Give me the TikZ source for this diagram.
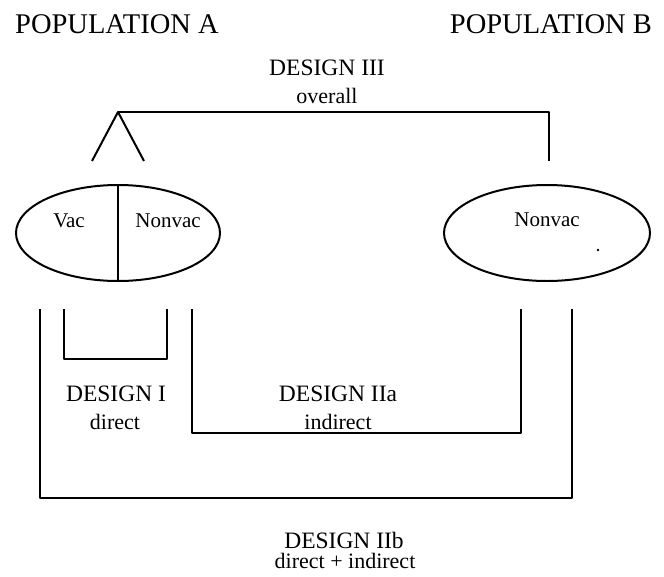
\documentclass[tikz,border=0pt]{standalone}
\usepackage{fontspec}
\setmainfont{Liberation Serif}
\usetikzlibrary{shapes.geometric}
\begin{document}
\begin{tikzpicture}[x=1pt,y=-1pt,
  ln/.style={line width=2pt, line join=round},
  pop/.style={ellipse, draw, line width=2pt, inner sep=0pt},
  big/.style={font=\fontsize{28.5}{31}\selectfont, inner sep=0pt},
  des/.style={font=\fontsize{23.5}{26}\selectfont, inner sep=0pt},
  sub/.style={font=\fontsize{22}{24}\selectfont, inner sep=0pt},
  lab/.style={font=\fontsize{21}{23}\selectfont, inner sep=0pt}]
\useasboundingbox (0,0) rectangle (664,576);
% titles
\node[big, anchor=west] (popA) at (15,24) {POPULATION A};
\node[big, anchor=east] (popB) at (652,24) {POPULATION B};
% populations
\node[pop, minimum width=204pt, minimum height=96pt] (ellA) at (118,233) {};
\node[pop, minimum width=206pt, minimum height=96pt] (ellB) at (547,233) {};
\draw[ln] (ellA.north) -- (ellA.south);
\node[lab] (vac) at (69,221) {Vac};
\node[lab] (nonvacA) at (168,221) {Nonvac};
\node[lab] (nonvacB) at (547,220) {Nonvac};
\fill (598,250) circle (1.3pt);
% Design III
\node[des] (d3) at (327,68) {DESIGN III};
\node[sub] (d3s) at (327,96) {overall};
\coordinate (apex) at (118,112);
\coordinate (legL) at (92,161);
\coordinate (legR) at (144,161);
\coordinate (d3r) at (549,161);
\draw[ln] (legL) -- (apex) -- (legR);
\draw[ln] (apex) -- (apex -| d3r) -- (d3r);
% Design I
\coordinate (i1) at (64,309);
\coordinate (i2) at (167,309);
\draw[ln] (i1) -- ++(0,50) -| (i2);
\node[des] (d1) at (116,394) {DESIGN I};
\node[sub] (d1s) at (115,422) {direct};
% Design IIa
\coordinate (a1) at (192,309);
\coordinate (a2) at (521,309);
\draw[ln] (a1) -- ++(0,124) -| (a2);
\node[des] (d2a) at (338,394) {DESIGN IIa};
\node[sub] (d2as) at (338,422) {indirect};
% Design IIb
\coordinate (b1) at (40,309);
\coordinate (b2) at (572,309);
\draw[ln] (b1) -- ++(0,189) -| (b2);
\node[des] (d2b) at (344,540) {DESIGN IIb};
\node[sub] (d2bs) at (345,561) {direct + indirect};
\end{tikzpicture}
\end{document}
